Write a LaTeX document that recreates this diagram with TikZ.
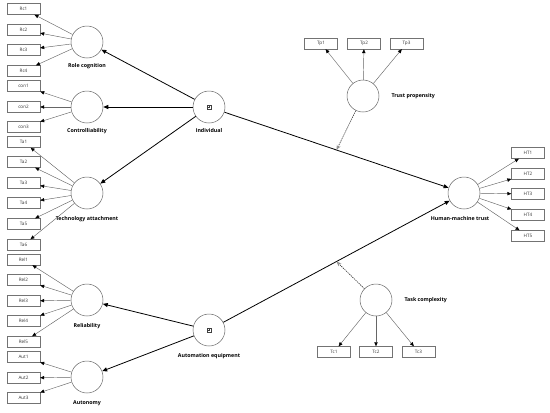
\documentclass[tikz,border=0pt]{standalone}
\usepackage{fontspec}
\setmainfont{Open Sans}
\usetikzlibrary{arrows.meta,calc}
\begin{document}
\begin{tikzpicture}[x=1pt,y=-1pt,
  lv/.style={circle,draw=black!60,line width=0.5pt,minimum size=32pt,inner sep=0pt},
  indbox/.style={draw=black!55,line width=0.4pt,minimum width=33pt,minimum height=11pt,inner sep=0pt,text=black!80,font=\fontsize{4.6}{5}\selectfont},
  lbl/.style={font=\fontsize{5.3}{6}\selectfont\bfseries},
  ld/.style={draw=black!60,line width=0.45pt,-{Triangle[length=4pt,width=3.4pt,color=black]}},
  sarrow/.style={draw=black,line width=0.8pt,-{Triangle[length=5pt,width=4pt]}},
  modarrow/.style={draw=black!80,line width=0.6pt,dash pattern=on 1.3pt off 0.9pt,-{Stealth[length=5pt,width=4pt,open,color=black!45]}},
  boxplus/.pic={\draw[black!75,line width=0.35pt] (-1.9,-1.9) rectangle (1.9,1.9);
                \draw[black!75,line width=0.35pt] (-1.2,0) -- (1.2,0);
                \draw[black!75,line width=0.35pt] (0,-1.2) -- (0,1.2);}]
\useasboundingbox (0,0) rectangle (550,413);
% latent variables
\node[lv] (rc) at (87,42) {};
\node[lv] (con) at (87,107) {};
\node[lv] (ta) at (87,193) {};
\node[lv] (rel) at (87,300) {};
\node[lv] (aut) at (87,377) {};
\node[lv] (indv) at (209,107) {};
\node[lv] (auto) at (209,330) {};
\node[lv] (hmt) at (464,193) {};
\node[lv] (tp) at (363,96) {};
\node[lv] (tc) at (376,300) {};
\pic at (indv.center) {boxplus};
\pic at (auto.center) {boxplus};
% labels
\node[lbl] (lrc) at (87,66) {Role cognition};
\node[lbl] (lcon) at (87,131) {Controlliability};
\node[lbl] (lta) at (87,219) {Technology attachment};
\node[lbl] (lrel) at (87,326) {Reliability};
\node[lbl] (laut) at (87,403) {Autonomy};
\node[lbl] (lindv) at (209,131) {Individual};
\node[lbl] (lauto) at (209,356) {Automation equipment};
\node[lbl] (lhmt) at (460,219) {Human-machine trust};
\node[lbl,anchor=west] (ltp) at (388,96) {Trust propensity};
\node[lbl,anchor=west] (ltc) at (401,300) {Task complexity};
% indicator boxes
\foreach \n/\y in {1/9,2/30,3/50,4/71}{\node[indbox] (Rc\n) at (23.5,\y) {Rc\n}; \draw[ld] (rc) -- (Rc\n);}
\foreach \n/\y in {1/86,2/107,3/127}{\node[indbox] (con\n) at (23.5,\y) {con\n}; \draw[ld] (con) -- (con\n);}
\foreach \n/\y in {1/142,2/162,3/183,4/203,5/224,6/245}{\node[indbox] (Ta\n) at (23.5,\y) {Ta\n}; \draw[ld] (ta) -- (Ta\n);}
\foreach \n/\y in {1/259.5,2/280,3/301,4/321,5/342}{\node[indbox] (Rel\n) at (23.5,\y) {Rel\n}; \draw[ld] (rel) -- (Rel\n);}
\foreach \n/\y in {1/357,2/378,3/398}{\node[indbox] (Aut\n) at (23.5,\y) {Aut\n}; \draw[ld] (aut) -- (Aut\n);}
\foreach \n/\x in {1/321,2/364,3/406.5}{\node[indbox] (Tp\n) at (\x,43.5) {Tp\n}; \draw[ld] (tp) -- (Tp\n);}
\foreach \n/\x in {1/334,2/376,3/418.5}{\node[indbox] (Tc\n) at (\x,352) {Tc\n}; \draw[ld] (tc) -- (Tc\n);}
\foreach \n/\y in {1/153,2/174,3/194,4/215,5/236}{\node[indbox] (HT\n) at (528,\y) {HT\n}; \draw[ld] (hmt) -- (HT\n);}
% structural paths
\draw[sarrow] (indv) -- (rc);
\draw[sarrow] (indv) -- (con);
\draw[sarrow] (indv) -- (ta);
\draw[sarrow] (auto) -- (rel);
\draw[sarrow] (auto) -- (aut);
\draw[sarrow] (indv) -- (hmt);
\draw[sarrow] (auto) -- (hmt);
% moderation
\coordinate (m1) at ($(indv)!0.5!(hmt)$);
\coordinate (m2) at ($(auto)!0.5!(hmt)$);
\draw[modarrow] (tp) -- (m1);
\draw[modarrow] (tc) -- (m2);
\end{tikzpicture}
\end{document}
